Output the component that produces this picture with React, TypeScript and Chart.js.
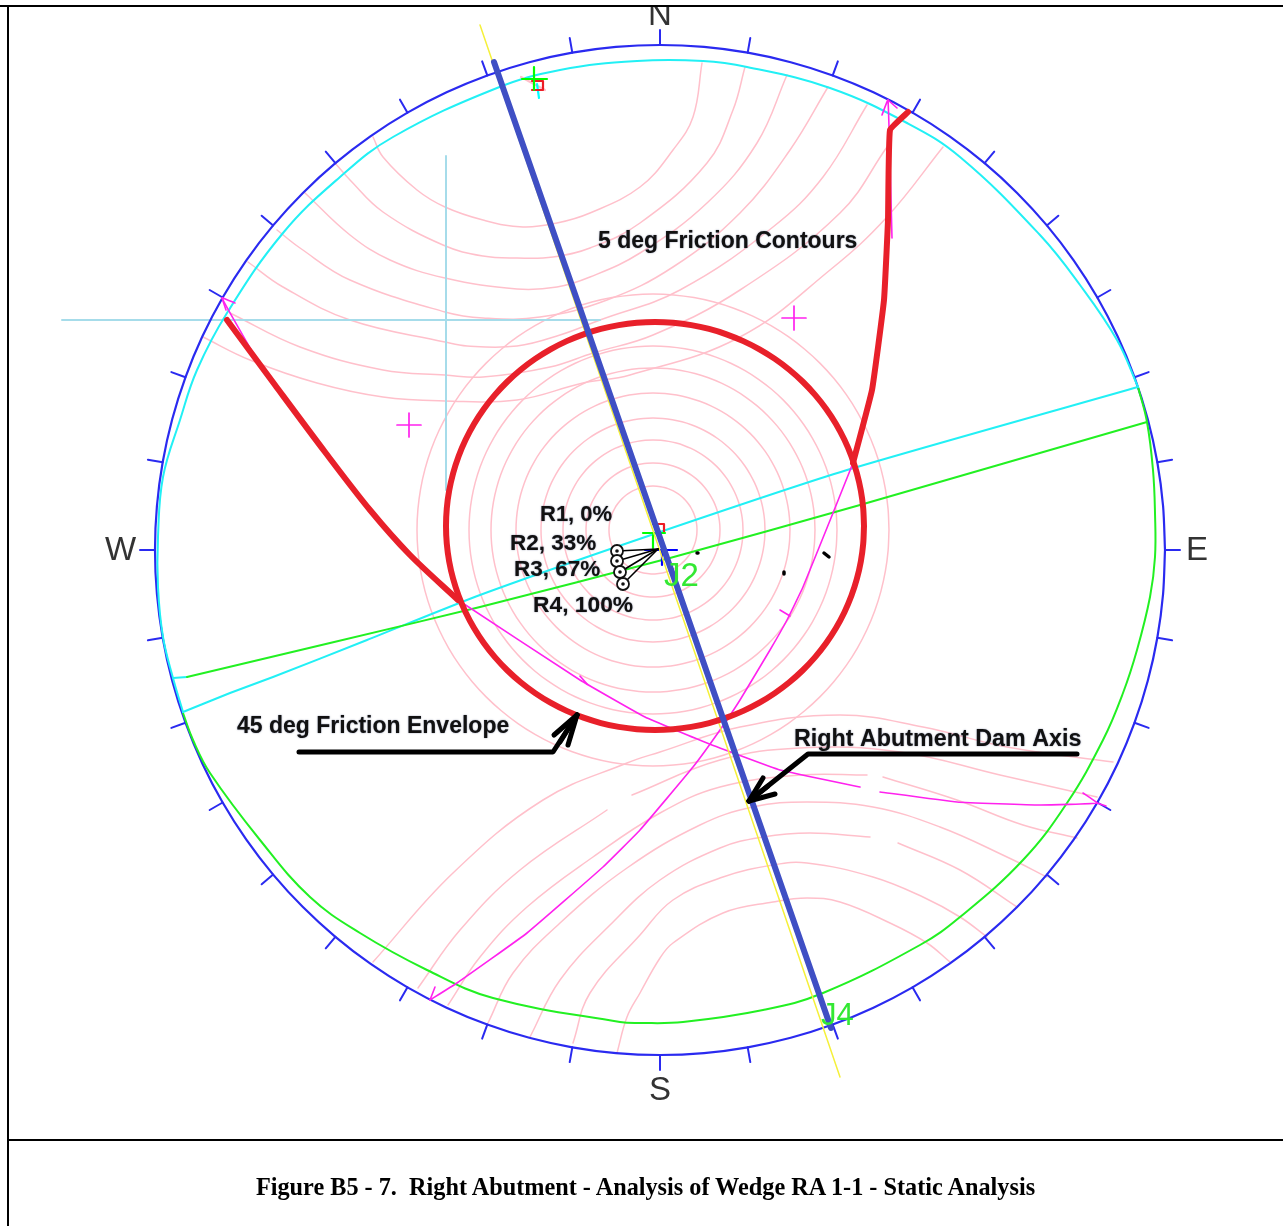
import React, { useEffect, useRef } from "react";
import { Chart, registerables } from "chart.js";

Chart.register(...registerables);

type P = [number, number];

// Plot space of the stereonet sheet
const netCentre: P = [660, 550];
const netRadius = 505;
const tickAzimuths = [0, 10, 20, 30, 40, 50, 60, 70, 80, 90, 100, 110, 120, 130, 140, 150, 160, 170, 180, 190, 200, 210, 220, 230, 240, 250, 260, 270, 280, 290, 300, 310, 320, 330, 340, 350];
const ringCentre: P = [653, 530];
const ringRadii = [44, 67, 90, 112, 137, 162, 184, 236];
const envelopeCentre: P = [655, 526];
const envelopeRadii: P = [209, 204];

const northArcs: P[][] = [
  [[373, 137], [383, 157], [417, 190], [445, 207], [483, 220], [523, 227], [557, 223], [590, 213], [640, 187], [673, 150], [693, 117], [702, 63]],
  [[335, 163], [350, 180], [383, 212], [443, 245], [483, 256], [517, 258], [553, 257], [590, 248], [640, 223], [707, 163], [733, 110], [745, 67]],
  [[305, 193], [350, 235], [390, 260], [445, 278], [517, 289], [557, 287], [590, 277], [640, 253], [707, 203], [757, 143], [787, 75]],
  [[277, 230], [300, 248], [350, 280], [445, 312], [483, 318], [540, 317], [607, 300], [673, 267], [740, 213], [790, 150], [828, 87]],
  [[248, 262], [283, 287], [350, 320], [445, 342], [467, 346], [517, 346], [560, 335], [600, 320], [680, 290], [773, 227], [823, 177], [867, 105]],
  [[230, 313], [300, 347], [383, 370], [445, 375], [483, 377], [550, 367], [593, 353], [653, 335], [740, 290], [840, 213], [887, 147]],
  [[203, 337], [250, 360], [317, 383], [383, 397], [445, 401], [517, 400], [583, 383], [630, 375], [740, 337], [830, 270], [887, 217], [943, 147]],
];

const southArcs: P[][] = [
  [[617, 1053], [627, 1017], [640, 993], [660, 958], [673, 943], [723, 913], [773, 902], [807, 898], [840, 902], [890, 923], [927, 943], [950, 962]],
  [[573, 1043], [590, 993], [640, 935], [673, 900], [723, 877], [773, 865], [807, 863], [873, 877], [923, 897], [960, 917], [987, 937]],
  [[530, 1037], [560, 980], [610, 925], [660, 880], [720, 848], [763, 837], [810, 833], [870, 837]],
  [[898, 843], [960, 870], [1017, 907]],
  [[488, 1023], [513, 973], [560, 923], [627, 868], [700, 825], [753, 807], [807, 802], [873, 807], [940, 827], [1007, 857], [1047, 877]],
  [[448, 1005], [480, 957], [527, 907], [593, 857], [660, 813], [720, 787], [800, 775], [867, 775]],
  [[883, 777], [957, 800], [1023, 825], [1077, 838]],
  [[418, 988], [460, 930], [520, 870], [607, 810]],
  [[632, 795], [720, 760], [800, 748], [900, 752], [1000, 775], [1097, 797]],
  [[373, 962], [453, 873], [543, 800], [627, 763], [660, 752], [740, 727], [840, 715], [923, 727], [1007, 747], [1113, 762]],
];

const cyanArc: P[] = [[1138, 387], [1117, 340], [1080, 285], [1040, 235], [960, 157], [907, 123], [830, 88], [747, 67], [703, 61], [637, 61], [560, 70], [497, 88], [393, 137], [340, 177], [283, 233], [227, 313], [197, 370], [180, 420], [163, 477], [158, 537], [158, 587], [163, 637], [173, 678], [183, 712]];
const cyanChord: P[] = [[183, 712], [230, 693], [273, 677], [367, 640], [480, 595], [657, 533], [847, 470], [1138, 387]];
const cyanStub: P[] = [[173, 678], [187, 677]];
const greenChord: P[] = [[187, 677], [330, 643], [480, 607], [670, 558], [860, 505], [1147, 422]];
const greenArc: P[] = [[1138, 387], [1147, 422], [1153, 470], [1155, 513], [1155, 557], [1150, 597], [1137, 650], [1123, 693], [1103, 740], [1067, 803], [1023, 860], [960, 917], [920, 945], [823, 993], [763, 1010], [683, 1022], [640, 1023], [620, 1022], [493, 998], [427, 970], [360, 933], [310, 897], [260, 840], [210, 773], [193, 740], [183, 713]];

const magentaLines: P[][] = [
  [[458, 600], [580, 680], [645, 717], [707, 743], [780, 770], [860, 787]],
  [[880, 792], [957, 802], [1040, 805], [1097, 803], [1083, 793]],
  [[430, 1000], [457, 983], [527, 933], [603, 867], [640, 830], [693, 767], [720, 730], [740, 700], [770, 650], [787, 620], [803, 587], [833, 513], [853, 463]],
  [[892, 238], [888, 100], [882, 115]],
  [[888, 100], [897, 108]],
  [[430, 1000], [435, 987]],
  [[1097, 803], [1106, 806]],
  [[257, 360], [222, 298], [235, 303]],
  [[222, 298], [226, 310]],
  [[580, 676], [587, 684]],
  [[780, 610], [790, 616]],
];
const magentaCrosses: P[] = [[794, 318], [409, 425]];
const referenceCross: P[][] = [
  [[62, 320], [600, 320]],
  [[446, 156], [446, 490]],
];
const yellowAxis: P[] = [[480, 25], [840, 1077]];
const blueAxis: P[] = [[494, 62], [831, 1028]];
const redLeft: P[] = [[227, 320], [275, 385], [325, 452], [370, 510], [410, 555], [458, 600]];
const redRight: P[] = [[853, 463], [872, 390], [884, 300], [888, 220], [890, 130], [908, 112]];

const arrowEnvelope: P[][] = [
  [[299, 752], [553, 752], [577, 715]],
  [[577, 715], [554, 735]],
  [[577, 715], [568, 745]],
  [[577, 715], [560, 742]],
];
const arrowAxis: P[][] = [
  [[1077, 754], [808, 754], [749, 801]],
  [[749, 801], [763, 778]],
  [[749, 801], [775, 794]],
  [[749, 801], [768, 786]],
];
const rakeMarkers: P[] = [[617, 551], [617, 561], [620, 572], [623, 584]];
const rakeTarget: P = [658, 549];
const specks: P[][] = [
  [[824, 553], [829, 557]],
  [[697, 553], [698, 553]],
  [[784, 572], [784, 574]],
];
const centreMarks: { colour: string; pts: P[] }[] = [
  { colour: "#ed1c24", pts: [[653, 524], [664, 524], [664, 532]] },
  { colour: "#00ff00", pts: [[643, 533], [665, 533]] },
  { colour: "#00ff00", pts: [[653, 535], [653, 548]] },
  { colour: "#0000ff", pts: [[645, 550], [677, 550]] },
  { colour: "#0000ff", pts: [[662, 550], [662, 565]] },
  { colour: "#ffc0cb", pts: [[521, 77], [545, 90]] },
  { colour: "#00ffff", pts: [[537, 84], [539, 98]] },
  { colour: "#ed1c24", pts: [[532, 81], [543, 81], [543, 90], [532, 90]] },
  { colour: "#00ff00", pts: [[522, 79], [547, 79]] },
  { colour: "#00ff00", pts: [[534, 67], [534, 90]] },
];

const sheetLabels: { text: string; at: P; font: string; colour: string; halo?: boolean }[] = [
  { text: "5 deg Friction Contours", at: [598, 242], font: "bold 23px 'Liberation Sans'", colour: "#111", halo: true },
  { text: "45 deg Friction Envelope", at: [237, 727], font: "bold 23px 'Liberation Sans'", colour: "#111", halo: true },
  { text: "Right Abutment Dam Axis", at: [794, 740], font: "bold 23.3px 'Liberation Sans'", colour: "#111", halo: true },
  { text: "R1, 0%", at: [540, 515], font: "bold 22px 'Liberation Sans'", colour: "#111", halo: true },
  { text: "R2, 33%", at: [510, 544], font: "bold 22.5px 'Liberation Sans'", colour: "#111", halo: true },
  { text: "R3, 67%", at: [514, 570], font: "bold 22.5px 'Liberation Sans'", colour: "#111", halo: true },
  { text: "R4, 100%", at: [533, 606], font: "bold 22.8px 'Liberation Sans'", colour: "#111", halo: true },
  { text: "J2", at: [664, 577], font: "33px 'Liberation Sans'", colour: "#33e833" },
  { text: "J4", at: [821, 1016], font: "31px 'Liberation Sans'", colour: "#33e833" },
  { text: "N", at: [648, 16], font: "33px 'Liberation Sans'", colour: "#333" },
  { text: "S", at: [649, 1091], font: "33px 'Liberation Sans'", colour: "#333" },
  { text: "W", at: [105, 551], font: "33px 'Liberation Sans'", colour: "#333" },
  { text: "E", at: [1186, 551], font: "33px 'Liberation Sans'", colour: "#333" },
];

const captionText = "Figure B5 - 7.  Right Abutment - Analysis of Wedge RA 1-1 - Static Analysis";

const ring = (c: P, rx: number, ry: number): P[] => {
  const out: P[] = [];
  for (let a = 0; a <= 360; a += 5) {
    const t = (a * Math.PI) / 180;
    out.push([c[0] + rx * Math.cos(t), c[1] + ry * Math.sin(t)]);
  }
  return out;
};
const polar = (az: number, r: number): P => {
  const t = (az * Math.PI) / 180;
  return [netCentre[0] + r * Math.sin(t), netCentre[1] - r * Math.cos(t)];
};

export default function App() {
  const ref = useRef<HTMLCanvasElement>(null);
  useEffect(() => {
    const line = (pts: P[], colour: string, width: number, tension = 0) => ({
      type: "scatter" as const,
      data: pts.map(([x, y]) => ({ x, y })),
      showLine: true,
      borderColor: colour,
      backgroundColor: colour,
      borderWidth: width,
      pointRadius: 0,
      tension,
      fill: false,
      clip: false,
      borderCapStyle: "round" as const,
      borderJoinStyle: "round" as const,
    });
    const pink = "#ffc0cb";
    const layers: any[] = [];
    ringRadii.forEach((r) => layers.push(line(ring(ringCentre, r, r), pink, 1.5, 0.3)));
    northArcs.forEach((a) => layers.push(line(a, pink, 1.5, 0.4)));
    southArcs.forEach((a) => layers.push(line(a, pink, 1.5, 0.4)));
    referenceCross.forEach((a) => layers.push(line(a, "#a6dcea", 2)));
    layers.push(line(ring(netCentre, netRadius, netRadius), "#2a2af0", 2.2, 0.3));
    tickAzimuths.forEach((az) => layers.push(line([polar(az, netRadius), polar(az, netRadius + 15)], "#2a2af0", 2)));
    layers.push(line(greenArc, "#22f022", 2, 0.4));
    layers.push(line(cyanArc, "#22f0f5", 2, 0.4));
    layers.push(line(cyanChord, "#22f0f5", 2, 0.2));
    layers.push(line(cyanStub, "#22f0f5", 2));
    layers.push(line(greenChord, "#22f022", 2, 0.2));
    magentaLines.forEach((a) => layers.push(line(a, "#ff22ee", 1.6, 0.1)));
    magentaCrosses.forEach(([x, y]) => {
      layers.push(line([[x - 12, y], [x + 12, y]], "#ff22ee", 1.7));
      layers.push(line([[x, y - 12], [x, y + 12]], "#ff22ee", 1.7));
    });
    centreMarks.forEach((m) => layers.push(line(m.pts, m.colour, 2.2)));
    layers.push(line(yellowAxis, "#f5f03a", 1.5));
    layers.push(line(ring(envelopeCentre, envelopeRadii[0], envelopeRadii[1]), "#e8202a", 6, 0.3));
    layers.push(line(redLeft, "#e8202a", 6, 0.3));
    layers.push(line(redRight, "#e8202a", 6, 0.1));
    layers.push(line(blueAxis, "#3f4fc4", 6));
    arrowEnvelope.forEach((a) => layers.push(line(a, "#000", 5)));
    arrowAxis.forEach((a) => layers.push(line(a, "#000", 5)));
    specks.forEach((a) => layers.push(line(a, "#000", 3.5)));
    rakeMarkers.forEach((p) => layers.push(line([p, rakeTarget], "#000", 1.6)));
    layers.push({
      type: "scatter",
      data: rakeMarkers.map(([x, y]) => ({ x, y })),
      pointRadius: 6,
      pointBackgroundColor: "#fff",
      pointBorderColor: "#111",
      pointBorderWidth: 1.8,
      showLine: false,
    });
    layers.push({
      type: "scatter",
      data: rakeMarkers.map(([x, y]) => ({ x, y })),
      pointRadius: 1.8,
      pointBackgroundColor: "#111",
      pointBorderWidth: 0,
      showLine: false,
    });

    const textPlugin = {
      id: "sheetLabels",
      afterDatasetsDraw(c: any) {
        const g = c.ctx;
        g.save();
        g.textAlign = "left";
        g.textBaseline = "middle";
        sheetLabels.forEach((l) => {
          g.font = l.font;
          g.fillStyle = l.colour;
          g.shadowColor = l.halo ? "rgba(60,70,110,0.7)" : "transparent";
          g.shadowBlur = l.halo ? 1.5 : 0;
          g.fillText(l.text, c.scales.x.getPixelForValue(l.at[0]), c.scales.y.getPixelForValue(l.at[1]));
        });
        g.restore();
      },
    };

    const chart = new Chart(ref.current!, {
      type: "scatter",
      data: { datasets: layers.reverse() },
      options: {
        animation: false,
        responsive: false,
        devicePixelRatio: 1,
        layout: { padding: 0, autoPadding: false },
        plugins: { legend: { display: false }, title: { display: false }, tooltip: { enabled: false } },
        scales: {
          x: { type: "linear", min: 0, max: 1283, display: false },
          y: { type: "linear", min: 0, max: 1226, reverse: true, display: false },
        },
      },
      plugins: [textPlugin],
    } as any);
    return () => chart.destroy();
  }, []);

  return (
    <div style={{ position: "absolute", left: 0, top: 0, width: 1283, height: 1226, overflow: "hidden", background: "#fff" }}>
      <canvas ref={ref} width={1283} height={1226} style={{ position: "absolute", left: 0, top: 0, width: 1283, height: 1226 }} />
      <div style={{ position: "absolute", left: 0, top: 0, width: 1283, height: 5, background: "#fff" }} />
      <div style={{ position: "absolute", left: 0, top: 5, width: 1283, height: 2, background: "#000" }} />
      <div style={{ position: "absolute", left: 7, top: 5, width: 2, height: 1221, background: "#000" }} />
      <div style={{ position: "absolute", left: 8, top: 1139, width: 1275, height: 2, background: "#000" }} />
      <div
        style={{
          position: "absolute",
          left: 8,
          width: 1275,
          top: 1172,
          textAlign: "center",
          font: "bold 24.25px 'Liberation Serif'",
          lineHeight: "30px",
          color: "#000",
          whiteSpace: "pre",
        }}
      >
        {captionText}
      </div>
    </div>
  );
}
